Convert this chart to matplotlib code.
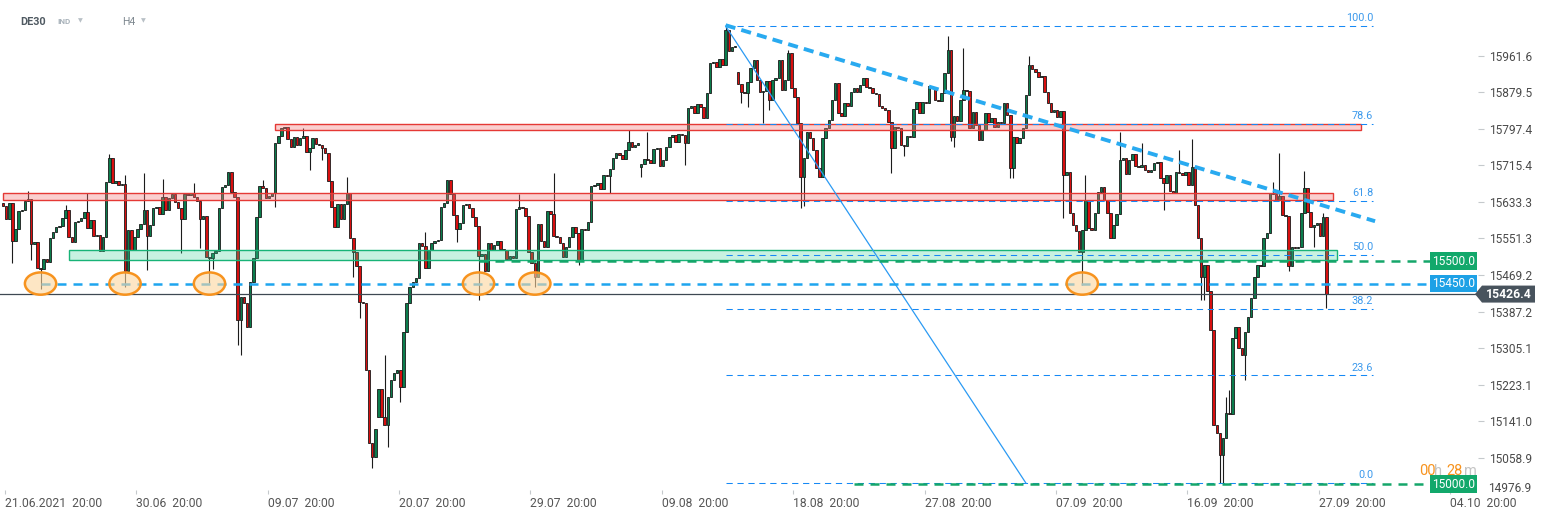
import matplotlib
matplotlib.use("Agg")
import matplotlib.pyplot as plt
import numpy as np
from matplotlib.patches import Rectangle, Ellipse, Polygon
from matplotlib.transforms import blended_transform_factory, IdentityTransform

plt.rcParams['font.family'] = ['Roboto', 'DejaVu Sans']

# DE30 H4 closes, 21.06.2021 -> 27.09.2021
closes = [
    15624, 15595, 15631, 15546, 15573, 15613, 15615, 15635, 15640, 15539, 15543, 15485,
    15483, 15505, 15498, 15552, 15566, 15577, 15579, 15597, 15615, 15555, 15543, 15588,
    15590, 15597, 15611, 15575, 15593, 15557, 15559, 15523, 15555, 15678, 15732, 15676,
    15680, 15671, 15674, 15478, 15570, 15525, 15555, 15573, 15584, 15615, 15557, 15581,
    15620, 15622, 15606, 15644, 15615, 15642, 15651, 15633, 15620, 15595, 15651, 15649,
    15653, 15644, 15635, 15595, 15602, 15510, 15508, 15519, 15523, 15620, 15667, 15671, 15700,
    15656, 15644, 15368, 15420, 15406, 15353, 15454, 15507, 15599, 15669, 15665, 15642,
    15647, 15653, 15766, 15781, 15799, 15801, 15775, 15757, 15779, 15761, 15777, 15781,
    15745, 15754, 15777, 15763, 15761, 15754, 15743, 15680, 15622, 15577, 15629, 15595,
    15629, 15653, 15552, 15521, 15489, 15409, 15406, 15256, 15092, 15061, 15124, 15213,
    15150, 15132, 15195, 15234, 15249, 15256, 15218, 15341, 15406, 15442, 15454, 15463,
    15541, 15534, 15485, 15525, 15541, 15546, 15548, 15622, 15631,
    15683, 15651, 15604, 15573, 15586, 15626, 15629, 15620, 15599, 15579, 15512, 15516,
    15478, 15541, 15525, 15536, 15546, 15528, 15525, 15505, 15512, 15507, 15617, 15622,
    15620, 15602, 15521, 15496, 15465, 15584, 15546, 15532, 15613, 15606, 15557, 15555,
    15541, 15510, 15532, 15555, 15577, 15564, 15503, 15573, 15570, 15588, 15669, 15671,
    15676, 15662, 15694, 15691, 15707, 15732, 15743, 15739, 15730, 15750, 15768, 15757,
    15761, 15766, 15718, 15730, 15727, 15721, 15752, 15754, 15714, 15727, 15757,
    15779, 15784, 15768, 15786, 15784, 15766, 15844, 15849, 15833, 15853, 15846, 15822,
    15878, 15945, 15947, 15936, 15954, 15941, 16019, 15972, 15981, 15983, 15898, 15880,
    15878, 15903, 15934, 15952, 15907, 15880, 15882, 15905, 15862, 15907, 15911, 15952,
    15885, 15907, 15968, 15889, 15869, 15810, 15689, 15732, 15790, 15777, 15750, 15709,
    15689, 15777, 15799, 15817, 15862, 15900, 15833, 15826, 15855, 15849, 15880, 15889,
    15880, 15896, 15911, 15891, 15889, 15878, 15876, 15849, 15844, 15840, 15813,
    15754, 15801, 15799, 15761, 15759, 15781, 15779, 15842, 15858, 15833, 15858, 15855,
    15894, 15892, 15862, 15860, 15878, 15923, 15974, 15779, 15826, 15815, 15862, 15885,
    15883, 15799, 15835, 15806, 15772, 15795, 15833, 15813, 15822, 15801, 15813, 15811,
    15855, 15828, 15709, 15779, 15766, 15777, 15799, 15873, 15941, 15932, 15925, 15914,
    15916, 15880, 15855, 15835, 15840, 15824, 15837, 15694, 15700, 15608, 15581, 15568,
    15521, 15570, 15638, 15575, 15570, 15608, 15656, 15667, 15638, 15608, 15552, 15581,
    15606, 15727, 15732, 15696, 15727, 15741, 15714, 15712, 15716, 15705, 15700, 15705,
    15721, 15723, 15687, 15676, 15694, 15658, 15653, 15700, 15698, 15694, 15700, 15671,
    15712, 15626, 15552, 15465, 15492, 15433, 15346, 15132, 15115, 15065, 15103, 15159,
    15157, 15328, 15353, 15305, 15290, 15341, 15375, 15418, 15465, 15492, 15489, 15552,
    15564, 15653, 15651, 15638, 15647, 15604, 15602, 15489, 15532, 15530, 15532, 15608,
    15665, 15611, 15577, 15581, 15586, 15557, 15599, 15426.4,
]
first_open = 15630
gap_opens = {120: 15150, 204: 15712, 235: 15925}

wick_highs = {8: 15658, 20: 15626, 27: 15653, 34: 15741, 39: 15694, 45: 15698, 51: 15685,
              61: 15676, 73: 15687, 83: 15683, 96: 15799, 110: 15689, 122: 15290, 135: 15566,
              165: 15651, 176: 15698, 200: 15795, 206: 15790, 231: 16030, 251: 15974,
              302: 16006, 307: 15979, 328: 15961, 346: 15694, 357: 15790, 364: 15766,
              376: 15750, 380: 15775, 391: 15195, 392: 15211, 406: 15678, 408: 15743,
              416: 15703, 422: 15608}
wick_lows = {3: 15496, 9: 15503, 12: 15438, 39: 15442, 46: 15480, 57: 15519, 63: 15530,
             66: 15451, 67: 15483, 75: 15312, 76: 15290, 87: 15622, 98: 15705, 102: 15727,
             112: 15465, 114: 15373, 118: 15036, 123: 15083, 127: 15184, 145: 15543,
             152: 15413, 170: 15442, 184: 15492, 194: 15653, 204: 15689, 218: 15716,
             236: 15855, 238: 15846, 243: 15810, 245: 15840, 255: 15620, 256: 15624,
             284: 15698, 288: 15736, 303: 15770, 304: 15757, 322: 15687, 323: 15687,
             339: 15597, 345: 15447, 371: 15615, 383: 15413, 384: 15413, 389: 15002,
             390: 15002, 397: 15234, 411: 15478, 419: 15532, 423: 15395}

date_labels = ["21.06.2021  20:00", "30.06  20:00", "09.07  20:00", "20.07  20:00",
               "29.07  20:00", "09.08  20:00", "18.08  20:00", "27.08  20:00",
               "07.09  20:00", "16.09  20:00", "27.09  20:00", "04.10  20:00"]
price_ticks = [15961.6, 15879.5, 15797.4, 15715.4, 15633.3, 15551.3, 15469.2,
               15387.2, 15305.1, 15223.1, 15141.0, 15058.9]
bottom_tick = 14976.9

fib_levels = [0.0, 23.6, 38.2, 50.0, 61.8, 78.6, 100.0]
fib_low, fib_high = 15002, 16028
fib_start, fib_end, fib_diag_end = 231, 438, 327
trend_x, trend_y = [231, 438.6], [16030, 15590]

red_zones = [(87, 434, 15794, 15808), (0, 425, 15637, 15653)]
green_zone = (21, 426.5, 15502, 15525)
support_touches = [12, 39, 66, 152, 170, 345]
last_price = closes[-1]

W, H = 1546, 518
fig = plt.figure(figsize=(W / 100, H / 100), dpi=100)
ax = fig.add_axes([0, 1 - 494 / H, 1478 / W, 494 / H])
ax.set_xlim(-0.96, 471.5)
ax.set_ylim(14977.6, 16086.6)
for s in ax.spines.values():
    s.set_visible(False)


def px(xp, yp):
    return xp / W, 1 - yp / H


# candles
n = len(closes)
x = np.arange(n)
c = np.array(closes, dtype=float)
o = np.array([first_open] + closes[:-1], dtype=float)
for i, v in gap_opens.items():
    o[i] = v
body_lo = np.minimum(o, c)
body_hi = np.maximum(o, c)
hi = np.array([max(body_hi[i], wick_highs.get(i, body_hi[i])) for i in range(n)])
lo = np.array([min(body_lo[i], wick_lows.get(i, body_lo[i])) for i in range(n)])
ax.vlines(x, lo, hi, color='#1b1b1b', lw=0.8, zorder=2)
cols = np.where(c >= o, '#0b7c4c', '#d80f0f')
ax.bar(x, np.maximum(body_hi - body_lo, 1.5), bottom=body_lo, width=0.8, color=cols,
       edgecolor='#1b1b1b', linewidth=0.6, zorder=3)

# zones
for x0, x1, y0, y1 in red_zones:
    ax.add_patch(Rectangle((x0, y0), x1 - x0, y1 - y0, facecolor='#f27a7a', alpha=0.36,
                           edgecolor='none', zorder=4))
    ax.add_patch(Rectangle((x0, y0), x1 - x0, y1 - y0, fill=False, edgecolor='#e53935',
                           lw=1.0, zorder=4))
gx0, gx1, gy0, gy1 = green_zone
ax.add_patch(Rectangle((gx0, gy0), gx1 - gx0, gy1 - gy0, facecolor='#3ccf95', alpha=0.28,
                       edgecolor='none', zorder=4))
ax.add_patch(Rectangle((gx0, gy0), gx1 - gx0, gy1 - gy0, fill=False, edgecolor='#18b377',
                       lw=1.0, zorder=4))

# fibonacci
for lv in fib_levels:
    p = fib_low + (fib_high - fib_low) * lv / 100
    ax.plot([fib_start, fib_end], [p, p], color='#1689f5', lw=0.75, dashes=(6, 4.5), zorder=5)
    ax.text(fib_end, p + 6, f'{lv:.1f}', ha='right', va='bottom', color='#3b99ec',
            fontsize=7.8, zorder=7)
ax.plot([fib_start, fib_diag_end], [fib_high, fib_low], color='#2b9af3', lw=0.9, zorder=5)

# trend line
ax.plot(trend_x, trend_y, color='#29aaf0', lw=2.8, dashes=(2.6, 1.6), zorder=6)

# levels
label_edge = 456
ax.axhline(last_price, color='#3e4852', lw=0.9, zorder=5)
ax.plot([12, label_edge], [15450, 15450], color='#1ea5ef', lw=1.8, dashes=(3.6, 2.8), zorder=5)
ax.plot([152, label_edge], [15500, 15500], color='#15a66a', lw=1.8, dashes=(3.6, 2.8), zorder=5)
ax.plot([272, label_edge], [15000, 15000], color='#15a66a', lw=1.8, dashes=(3.6, 2.8), zorder=5)

# touches of 15450
for i in support_touches:
    ax.add_patch(Ellipse((i, 15450), width=10, height=50, facecolor=(0.99, 0.84, 0.62, 0.6),
                         edgecolor='#f7931e', lw=1.8, zorder=6))

# level boxes
bt = blended_transform_factory(ax.transAxes, ax.transData)
for val, col in [(15500, '#12a86b'), (15450, '#1da1e6'), (15000, '#12a86b')]:
    ax.text(1 - 3 / 1478, val, f'{val:.1f}', transform=bt, ha='right', va='center',
            color='white', fontsize=8.6, zorder=8,
            bbox=dict(boxstyle='square,pad=0.2', fc=col, ec='none'))

# countdown
for txt, xp, col in [('00', 1419, '#f7931e'), ('h', 1434, '#c4c4c4'),
                     ('28', 1446, '#f7931e'), ('m', 1464, '#c4c4c4')]:
    fig.text(*px(xp, 471), txt, color=col, fontsize=10.5, va='center', zorder=1)

# last price tag
fig.canvas.draw()
yd = ax.transData.transform((0, last_price))[1]
tag = Polygon([(1475, yd), (1482, yd + 8.5), (1535, yd + 8.5), (1535, yd - 8.5),
               (1482, yd - 8.5)], closed=True, facecolor='#48535d', edgecolor='none',
              transform=IdentityTransform())
fig.add_artist(tag)
fig.text(1508.5 / W, yd / H, f'{last_price:.1f}', color='white', fontsize=8.8,
         fontweight='bold', ha='center', va='center')

# axes ticks
ax.yaxis.tick_right()
ax.set_yticks(price_ticks)
ax.set_yticklabels([f'{v:.1f}' for v in price_ticks])
ax.tick_params(axis='y', length=4, width=0.8, color='#c5c9cc', pad=4, labelsize=8.6,
               labelcolor='#4a4a4a')
fig.text(*px(1488, 488.7), f'{bottom_tick:.1f}', fontsize=8.6, color='#4a4a4a', va='center')

tick_pos = [0.6 + 6 * 7 * k for k in range(len(date_labels))]
ax.set_xticks(tick_pos)
ax.set_xticklabels(date_labels, ha='left')
ax.tick_params(axis='x', direction='in', length=3, width=0.8, color='#c5c9cc', pad=2.5,
               labelsize=8.7, labelcolor='#555555')

# header
fig.text(*px(20, 22), 'DE30', fontsize=7.8, fontweight='bold', color='#505a62', va='center')
fig.text(*px(57, 22), 'IND', fontsize=5.8, fontweight='bold', color='#a8b2ba', va='center')
fig.text(*px(78, 21), '\u25bc', fontsize=4.5, color='#b8c0c6', va='center', family='DejaVu Sans')
fig.text(*px(122, 22), 'H4', fontsize=7.5, color='#7d878f', va='center')
fig.text(*px(141, 21), '\u25bc', fontsize=4.5, color='#b8c0c6', va='center', family='DejaVu Sans')

fig.savefig('out.png', dpi=100)
